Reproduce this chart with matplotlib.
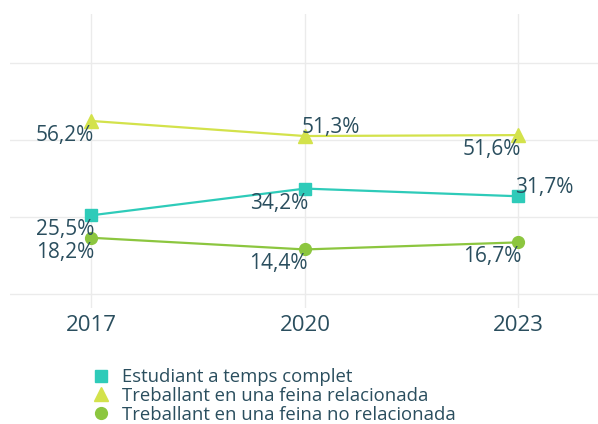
import matplotlib
matplotlib.use("Agg")
import matplotlib.pyplot as plt
from matplotlib.lines import Line2D

plt.rcParams['font.family'] = ['Open Sans', 'DejaVu Sans']

years = [2017, 2020, 2023]
series_names = [
    "Estudiant a temps complet",
    "Treballant en una feina relacionada",
    "Treballant en una feina no relacionada",
]
estudiant = [25.5, 34.2, 31.7]
relacionada = [56.2, 51.3, 51.6]
no_relacionada = [18.2, 14.4, 16.7]
# where each value label sits relative to its point: bl = bottom left, tr = top right
label_pos = [
    ["bl", "bl", "tr"],
    ["bl", "tr", "bl"],
    ["bl", "bl", "bl"],
]

colors = ["#2ecbb9", "#d3e24b", "#8cc63f"]
markers = ["s", "^", "o"]
msizes = [8.5, 10, 8.5]
text_color = "#2a4e5e"

fig = plt.figure(figsize=(5.98, 4.24), dpi=100)
ax = fig.add_axes([10 / 598, 1 - 308 / 424, 588 / 598, (308 - 14) / 424])

px = 72 / 100  # one pixel in points
for vals, name, c, m, ms, pos in zip([estudiant, relacionada, no_relacionada],
                                     series_names, colors, markers, msizes, label_pos):
    ax.plot(years, vals, color=c, marker=m, markersize=ms, linewidth=1.6,
            label=name, zorder=3)
    for x, y, p in zip(years, vals, pos):
        txt = f"{y:.1f}%".replace(".", ",")
        if p == "bl":
            ax.annotate(txt, (x, y), xytext=(3 * px, -4 * px), textcoords="offset points",
                        ha="right", va="top", fontsize=15, color=text_color, zorder=4)
        else:
            ax.annotate(txt, (x, y), xytext=(-3 * px, 3 * px), textcoords="offset points",
                        ha="left", va="baseline", fontsize=15, color=text_color, zorder=4)

ax.set_xlim(2015.858, 2024.117)
ax.set_ylim(-4.65, 91.0)
ax.set_xticks(years)
ax.set_xticklabels([str(y) for y in years], fontsize=16, color=text_color)
ax.set_yticks([0, 25, 50, 75])
ax.set_yticklabels([])
ax.tick_params(length=0, pad=5)
ax.grid(True, color="#ebebeb", linewidth=1)
ax.set_axisbelow(True)
for s in ax.spines.values():
    s.set_visible(False)

handles = [Line2D([], [], color=c, marker=m, markersize=ms, linestyle="none")
           for c, m, ms in zip(colors, markers, msizes)]
fig.legend(handles, series_names, loc="upper left", bbox_to_anchor=(0.154, 0.132),
           frameon=False, fontsize=13.3, labelspacing=0.04, handlelength=0.95,
           handletextpad=0.65, borderpad=0, borderaxespad=0, labelcolor=text_color)

fig.savefig("out.png", dpi=100)
